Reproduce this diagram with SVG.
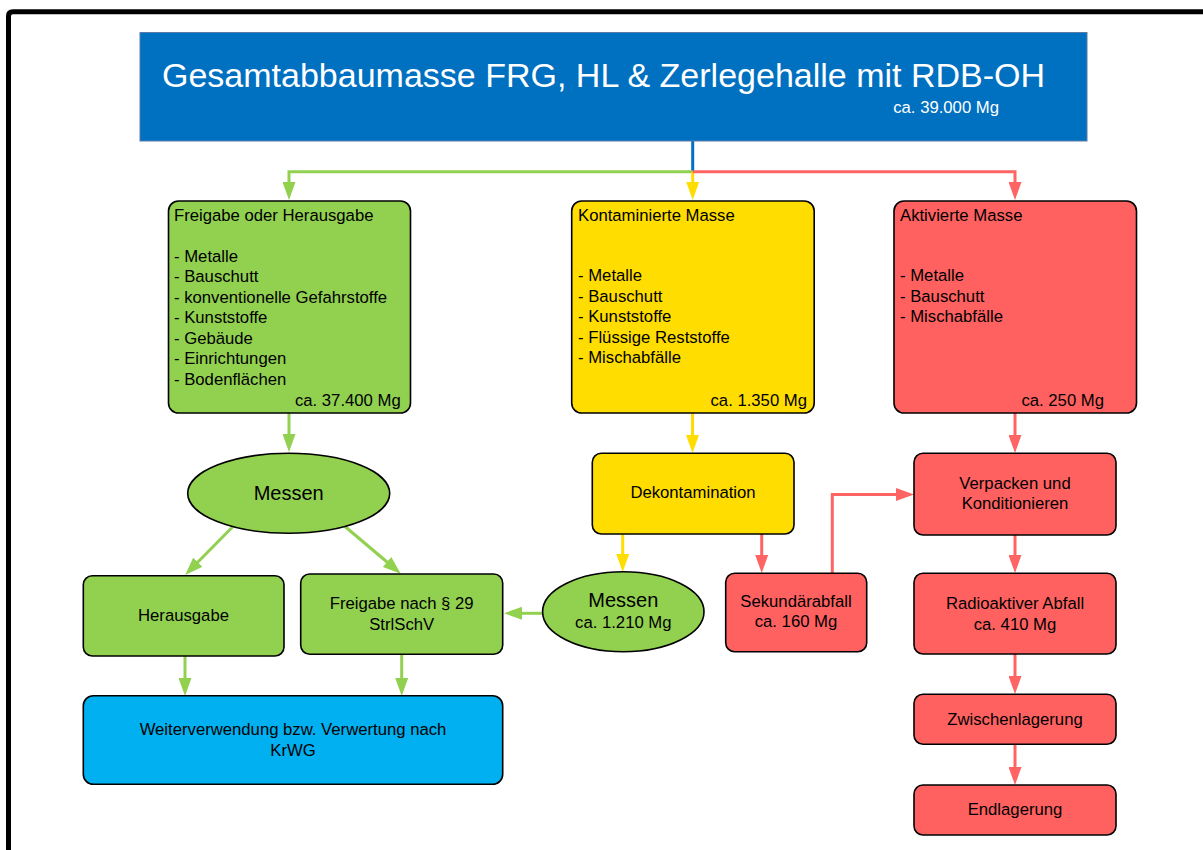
<svg xmlns="http://www.w3.org/2000/svg" width="1203" height="850" viewBox="0 0 1203 850">
<style>
text{font-family:"Liberation Sans",Arial,sans-serif;font-size:16.7px;fill:#000}
.box{stroke:#000;stroke-width:1.6}
.g{fill:#92D050}.y{fill:#FFDD00}.r{fill:#FF6161}.lb{fill:#00B0F0}
.c{text-anchor:middle}
.e{text-anchor:end}
.big{font-size:20px}
.cg{stroke:#92D050;stroke-width:3;fill:none}
.cy{stroke:#FFDD00;stroke-width:3;fill:none}
.cr{stroke:#FF6464;stroke-width:3;fill:none}
.cb{stroke:#0070C0;stroke-width:3;fill:none}
</style>
<defs>
<marker id="ag" markerUnits="userSpaceOnUse" markerWidth="18" markerHeight="13" refX="10" refY="6.5" orient="auto"><path d="M0,0 L18,6.5 L0,13 z" fill="#92D050"/></marker>
<marker id="ay" markerUnits="userSpaceOnUse" markerWidth="18" markerHeight="13" refX="10" refY="6.5" orient="auto"><path d="M0,0 L18,6.5 L0,13 z" fill="#FFDD00"/></marker>
<marker id="ar" markerUnits="userSpaceOnUse" markerWidth="18" markerHeight="13" refX="10" refY="6.5" orient="auto"><path d="M0,0 L18,6.5 L0,13 z" fill="#FF6464"/></marker>
</defs>
<rect width="1203" height="850" fill="#fff"/>
<path d="M8.5,850 V16 Q8.5,11.7 13,11.7 H1203" fill="none" stroke="#000" stroke-width="5"/>

<g id="connectors">
<path class="cb" d="M692.7,141 V171.7"/>
<path class="cg" d="M692.7,171.7 H289 V192" marker-end="url(#ag)"/>
<path class="cy" d="M692.7,171.7 V192" marker-end="url(#ay)"/>
<path class="cr" d="M692.7,171.7 H1015 V192" marker-end="url(#ar)"/>
<path class="cg" d="M289,413 V444" marker-end="url(#ag)"/>
<path class="cg" d="M232.7,526.7 L190.8,569.3" marker-end="url(#ag)"/>
<path class="cg" d="M345,526.5 L394.7,568.5" marker-end="url(#ag)"/>
<path class="cg" d="M185,656 V688" marker-end="url(#ag)"/>
<path class="cg" d="M401.7,654.3 V688" marker-end="url(#ag)"/>
<path class="cg" d="M542.7,613.3 H512" marker-end="url(#ag)"/>
<path class="cy" d="M692.5,413 V445" marker-end="url(#ay)"/>
<path class="cy" d="M622.7,534 V564" marker-end="url(#ay)"/>
<path class="cr" d="M761.7,534 V565" marker-end="url(#ar)"/>
<path class="cr" d="M832.3,573.3 V494.5 H906" marker-end="url(#ar)"/>
<path class="cr" d="M1015,413 V445" marker-end="url(#ar)"/>
<path class="cr" d="M1015,535 V565" marker-end="url(#ar)"/>
<path class="cr" d="M1015,654 V686" marker-end="url(#ar)"/>
<path class="cr" d="M1015,744.3 V777" marker-end="url(#ar)"/>
</g>

<g id="header">
<rect x="140" y="32.5" width="947" height="108.5" fill="#0070C0" stroke="#5A7BA8" stroke-width="1"/>
<text x="162" y="87" style="font-size:34px;fill:#fff">Gesamtabbaumasse FRG, HL &amp; Zerlegehalle mit RDB-OH</text>
<text x="999" y="112.7" class="e" style="fill:#fff">ca. 39.000 Mg</text>
</g>

<g id="freigabe">
<rect class="box g" x="168.5" y="201" width="242" height="212" rx="10"/>
<text x="174" y="221">Freigabe oder Herausgabe</text>
<text x="174" y="261.7">- Metalle</text>
<text x="174" y="282">- Bauschutt</text>
<text x="174" y="302.5">- konventionelle Gefahrstoffe</text>
<text x="174" y="323">- Kunststoffe</text>
<text x="174" y="343.5">- Gebäude</text>
<text x="174" y="364">- Einrichtungen</text>
<text x="174" y="384.5">- Bodenflächen</text>
<text x="400.7" y="405.7" class="e">ca. 37.400 Mg</text>
</g>

<g id="kontaminiert">
<rect class="box y" x="571.7" y="201" width="242.5" height="212" rx="10"/>
<text x="578" y="221">Kontaminierte Masse</text>
<text x="578" y="281">- Metalle</text>
<text x="578" y="301.5">- Bauschutt</text>
<text x="578" y="322">- Kunststoffe</text>
<text x="578" y="342.5">- Flüssige Reststoffe</text>
<text x="578" y="363">- Mischabfälle</text>
<text x="807" y="405.7" class="e">ca. 1.350 Mg</text>
</g>

<g id="aktiviert">
<rect class="box r" x="894" y="201" width="242.5" height="212" rx="10"/>
<text x="900" y="221">Aktivierte Masse</text>
<text x="900" y="281">- Metalle</text>
<text x="900" y="301.5">- Bauschutt</text>
<text x="900" y="322">- Mischabfälle</text>
<text x="1104" y="405.7" class="e">ca. 250 Mg</text>
</g>

<g id="messen1">
<ellipse class="box g" cx="288.7" cy="493.3" rx="101" ry="40"/>
<text x="288.7" y="500" class="c big">Messen</text>
</g>

<g id="herausgabe">
<rect class="box g" x="83.3" y="575.7" width="200.7" height="80.3" rx="9"/>
<text x="183.5" y="621" class="c">Herausgabe</text>
</g>

<g id="freigabe29">
<rect class="box g" x="300.7" y="574" width="202" height="80.3" rx="9"/>
<text x="401.7" y="609" class="c">Freigabe nach § 29</text>
<text x="401.7" y="630" class="c">StrlSchV</text>
</g>

<g id="weiterverwendung">
<rect class="box lb" x="83.3" y="695.7" width="419.4" height="88.6" rx="10"/>
<text x="293" y="735" class="c">Weiterverwendung bzw. Verwertung nach</text>
<text x="293" y="756" class="c">KrWG</text>
</g>

<g id="dekontamination">
<rect class="box y" x="592.3" y="453.3" width="201.7" height="80.7" rx="9"/>
<text x="693" y="498.3" class="c">Dekontamination</text>
</g>

<g id="messen2">
<ellipse class="box g" cx="623.3" cy="611.7" rx="80.7" ry="40"/>
<text x="623.3" y="607.3" class="c big">Messen</text>
<text x="623.3" y="628.3" class="c">ca. 1.210 Mg</text>
</g>

<g id="sekundaer">
<rect class="box r" x="725.7" y="573.3" width="141" height="78.4" rx="9"/>
<text x="796" y="606.7" class="c">Sekundärabfall</text>
<text x="796" y="626.7" class="c">ca. 160 Mg</text>
</g>

<g id="verpacken">
<rect class="box r" x="914" y="453.3" width="202" height="81.7" rx="9"/>
<text x="1015" y="489.3" class="c">Verpacken und</text>
<text x="1015" y="509.3" class="c">Konditionieren</text>
</g>

<g id="radioaktiv">
<rect class="box r" x="914" y="573.3" width="202" height="80.7" rx="9"/>
<text x="1015" y="609" class="c">Radioaktiver Abfall</text>
<text x="1015" y="630" class="c">ca. 410 Mg</text>
</g>

<g id="zwischenlagerung">
<rect class="box r" x="914" y="694.3" width="202" height="50" rx="9"/>
<text x="1015" y="725" class="c">Zwischenlagerung</text>
</g>

<g id="endlagerung">
<rect class="box r" x="914" y="785" width="202" height="50" rx="9"/>
<text x="1015" y="815" class="c">Endlagerung</text>
</g>
</svg>
